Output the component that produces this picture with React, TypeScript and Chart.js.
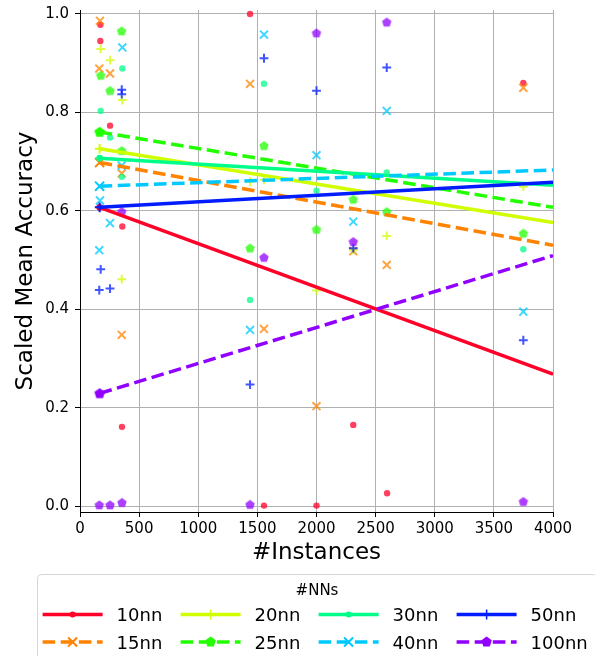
import React, { useEffect, useRef } from 'react';
import { Chart, registerables } from 'chart.js';

Chart.register(...registerables);

const FONT = "'DejaVu Sans', 'Liberation Sans', sans-serif";

// ---------------- data ----------------
const seriesNames = ['10nn', '15nn', '20nn', '25nn', '30nn', '40nn', '50nn', '100nn'];
const seriesColors = ['#ff0029', '#ff8300', '#cfff00', '#22ff00', '#00ff89', '#00c9ff', '#001cff', '#9100ff'];
const seriesDashed = [false, true, false, true, false, true, false, true];
const seriesMarkers = ['dot', 'x', 'plus', 'pentagon', 'dot', 'x', 'plus', 'pentagon'];

const x10nn = [172, 172, 254, 358, 355, 1438, 1556, 2000, 2311, 2597, 3749];
const y10nn = [0.978, 0.945, 0.773, 0.568, 0.161, 1.0, 0.001, 0.001, 0.165, 0.026, 0.86];
const x15nn = [169, 163, 254, 353, 353, 1438, 1556, 2000, 2311, 2594, 3749];
const y15nn = [0.986, 0.889, 0.879, 0.676, 0.348, 0.858, 0.36, 0.203, 0.518, 0.49, 0.85];
const x20nn = [175, 254, 358, 353, 1438, 1556, 2000, 2311, 2594, 3749];
const y20nn = [0.929, 0.906, 0.825, 0.461, 0.659, 0.663, 0.438, 0.52, 0.549, 0.649];
const x25nn = [175, 254, 352, 353, 1438, 1556, 2000, 2311, 2594, 3749];
const y25nn = [0.875, 0.844, 0.965, 0.722, 0.524, 0.732, 0.562, 0.623, 0.598, 0.554];
const x30nn = [175, 254, 358, 353, 1438, 1556, 2000, 2594, 3749];
const y30nn = [0.803, 0.749, 0.889, 0.669, 0.419, 0.858, 0.641, 0.678, 0.522];
const x40nn = [358, 353, 169, 254, 163, 1438, 1556, 2000, 2311, 2594, 3749];
const y40nn = [0.932, 0.692, 0.621, 0.575, 0.52, 0.358, 0.958, 0.713, 0.578, 0.803, 0.395];
const x50nn = [353, 353, 175, 163, 254, 1438, 1556, 2000, 2311, 2594, 3749];
const y50nn = [0.846, 0.837, 0.481, 0.439, 0.442, 0.247, 0.91, 0.844, 0.524, 0.891, 0.337];
const x100nn = [353, 163, 254, 355, 1438, 1556, 2000, 2311, 2594, 3749];
const y100nn = [0.598, 0.002, 0.002, 0.007, 0.003, 0.505, 0.961, 0.537, 0.983, 0.009];

const seriesX = [x10nn, x15nn, x20nn, x25nn, x30nn, x40nn, x50nn, x100nn];
const seriesY = [y10nn, y15nn, y20nn, y25nn, y30nn, y40nn, y50nn, y100nn];

// fitted trend lines (start / end)
const fitStartX = 166;
const fitEndX = 4000;
const fitStartY = [0.607, 0.698, 0.726, 0.76, 0.707, 0.65, 0.607, 0.229];
const fitEndY = [0.268, 0.53, 0.576, 0.607, 0.652, 0.683, 0.658, 0.509];

const xTicks = [0, 500, 1000, 1500, 2000, 2500, 3000, 3500, 4000];
const yTicks = [0, 0.2, 0.4, 0.6, 0.8, 1.0];

const xTitle = '#Instances';
const yTitle = 'Scaled Mean Accuracy';
const legendTitle = '#NNs';

// ---------------- helpers ----------------
function hexToRgba(hex: string, a: number) {
  const n = parseInt(hex.slice(1), 16);
  return `rgba(${(n >> 16) & 255},${(n >> 8) & 255},${n & 255},${a})`;
}

function pentagonPath(ctx: CanvasRenderingContext2D, cx: number, cy: number, R: number) {
  ctx.beginPath();
  for (let i = 0; i < 5; i++) {
    const a = -Math.PI / 2 + (i * 2 * Math.PI) / 5;
    const px = cx + R * Math.cos(a);
    const py = cy + R * Math.sin(a);
    if (i === 0) ctx.moveTo(px, py);
    else ctx.lineTo(px, py);
  }
  ctx.closePath();
}

function pentagonCanvas(color: string, R: number) {
  const size = Math.ceil(R * 2 + 2);
  const c = document.createElement('canvas');
  c.width = size;
  c.height = size;
  const ctx = c.getContext('2d')!;
  pentagonPath(ctx, size / 2, size / 2 + R * 0.05, R);
  ctx.fillStyle = color;
  ctx.fill();
  return c;
}

function drawLegendMarker(ctx: CanvasRenderingContext2D, kind: string, x: number, y: number, color: string) {
  ctx.save();
  ctx.setLineDash([]);
  ctx.fillStyle = color;
  ctx.strokeStyle = color;
  if (kind === 'dot') {
    ctx.beginPath();
    ctx.arc(x, y, 3, 0, Math.PI * 2);
    ctx.fill();
  } else if (kind === 'x') {
    ctx.lineWidth = 2;
    ctx.beginPath();
    ctx.moveTo(x - 4.5, y - 4.5);
    ctx.lineTo(x + 4.5, y + 4.5);
    ctx.moveTo(x - 4.5, y + 4.5);
    ctx.lineTo(x + 4.5, y - 4.5);
    ctx.stroke();
  } else if (kind === 'plus') {
    ctx.lineWidth = 1.5;
    ctx.beginPath();
    ctx.moveTo(x - 5, y);
    ctx.lineTo(x + 5, y);
    ctx.moveTo(x, y - 5);
    ctx.lineTo(x, y + 5);
    ctx.stroke();
  } else {
    pentagonPath(ctx, x, y, 5.5);
    ctx.fill();
  }
  ctx.restore();
}

const legendPlugin = {
  id: 'nnLegend',
  afterDraw(chart: any) {
    const ctx: CanvasRenderingContext2D = chart.ctx;
    ctx.save();
    // frame
    const bx = 37.5, by = 574.5, bw = 560, bh = 110, r = 4;
    ctx.beginPath();
    ctx.moveTo(bx + r, by);
    ctx.lineTo(bx + bw - r, by);
    ctx.arcTo(bx + bw, by, bx + bw, by + r, r);
    ctx.lineTo(bx + bw, by + bh);
    ctx.lineTo(bx, by + bh);
    ctx.lineTo(bx, by + r);
    ctx.arcTo(bx, by, bx + r, by, r);
    ctx.closePath();
    ctx.fillStyle = '#ffffff';
    ctx.fill();
    ctx.strokeStyle = '#d6d6d6';
    ctx.lineWidth = 1;
    ctx.stroke();

    ctx.fillStyle = '#000';
    ctx.font = `15px ${FONT}`;
    ctx.textAlign = 'center';
    ctx.textBaseline = 'alphabetic';
    ctx.fillText(legendTitle, 317, 595);

    const colX = [42.6, 180.6, 318.6, 456.6];
    const rowY = [614.5, 642];
    const rowBase = [621, 648.5];
    ctx.font = `18px ${FONT}`;
    ctx.textAlign = 'left';
    for (let i = 0; i < seriesNames.length; i++) {
      const col = Math.floor(i / 2);
      const row = i % 2;
      const x0 = colX[col];
      const y = rowY[row];
      ctx.save();
      ctx.strokeStyle = seriesColors[i];
      ctx.lineWidth = 3.5;
      ctx.lineCap = 'butt';
      ctx.setLineDash(seriesDashed[i] ? [12.6, 5.5] : []);
      ctx.beginPath();
      ctx.moveTo(x0, y);
      ctx.lineTo(x0 + 60, y);
      ctx.stroke();
      ctx.restore();
      drawLegendMarker(ctx, seriesMarkers[i], x0 + 30, y, seriesColors[i]);
      ctx.fillStyle = '#000';
      ctx.fillText(seriesNames[i], x0 + 74, rowBase[row]);
    }
    ctx.restore();
  },
};

function styleFor(kind: string, color: string, forLine: boolean) {
  const R = forLine ? 5.6 : 5.0;
  if (kind === 'dot') return { pointStyle: 'circle' as any, radius: forLine ? 3.4 : 3.2, border: 0 };
  if (kind === 'x') return { pointStyle: 'crossRot' as any, radius: forLine ? 6.4 : 5.6, border: 2 };
  if (kind === 'plus') return { pointStyle: 'cross' as any, radius: forLine ? 4.8 : 4.4, border: 2 };
  return { pointStyle: pentagonCanvas(color, R) as any, radius: R, border: 0 };
}

export default function App() {
  const ref = useRef<HTMLCanvasElement>(null);

  useEffect(() => {
    const datasets: any[] = [];
    seriesNames.forEach((name, i) => {
      const color = seriesColors[i];
      const faded = hexToRgba(color, 0.75);
      const st = styleFor(seriesMarkers[i], faded, false);
      datasets.push({
        type: 'scatter',
        label: name,
        data: seriesX[i].map((x, j) => ({ x, y: seriesY[i][j] })),
        pointStyle: st.pointStyle,
        pointRadius: st.radius,
        pointHoverRadius: st.radius,
        backgroundColor: faded,
        borderColor: faded,
        pointBorderWidth: st.border,
        borderWidth: st.border,
        order: 100 - i,
      });
    });
    seriesNames.forEach((name, i) => {
      const color = seriesColors[i];
      const st = styleFor(seriesMarkers[i], color, true);
      datasets.push({
        type: 'line',
        label: name + ' fit',
        data: [
          { x: fitStartX, y: fitStartY[i] },
          { x: fitEndX, y: fitEndY[i] },
        ],
        showLine: true,
        fill: false,
        tension: 0,
        borderColor: color,
        borderWidth: 3.5,
        borderDash: seriesDashed[i] ? [12.6, 5.5] : [],
        borderCapStyle: 'butt',
        pointStyle: st.pointStyle,
        pointRadius: [st.radius, 0],
        pointHoverRadius: [st.radius, 0],
        pointBackgroundColor: color,
        pointBorderColor: color,
        pointBorderWidth: st.border,
        order: 20 - i,
      });
    });

    const chart = new Chart(ref.current!, {
      type: 'scatter',
      data: { datasets },
      plugins: [legendPlugin],
      options: {
        responsive: false,
        animation: false,
        events: [],
        layout: { padding: { left: 0, right: 42, top: 10, bottom: 84 } },
        plugins: {
          legend: { display: false },
          tooltip: { enabled: false },
        },
        scales: {
          x: {
            type: 'linear',
            position: 'bottom',
            min: 0,
            max: 4000,
            afterBuildTicks: (s: any) => {
              s.ticks = xTicks.map((v) => ({ value: v }));
            },
            afterFit: (s: any) => {
              s.height = 60;
              s.paddingLeft = 0;
              s.paddingRight = 0;
            },
            ticks: {
              callback: (v: any) => String(v),
              font: { family: FONT, size: 15 },
              color: '#000',
              padding: 3,
              autoSkip: false,
              maxRotation: 0,
            },
            grid: { color: '#b0b0b0', lineWidth: 1, tickColor: '#000', tickLength: 5, tickWidth: 1 },
            border: { color: '#000', width: 1 },
            title: {
              display: true,
              text: xTitle,
              font: { family: FONT, size: 23 },
              color: '#000',
              padding: { top: 0, bottom: 5 },
            },
          },
          y: {
            type: 'linear',
            min: -0.012,
            max: 1.008,
            afterBuildTicks: (s: any) => {
              s.ticks = yTicks.map((v) => ({ value: v }));
            },
            afterFit: (s: any) => {
              s.width = 80;
              s.paddingTop = 0;
              s.paddingBottom = 0;
            },
            ticks: {
              callback: (v: any) => Number(v).toFixed(1),
              font: { family: FONT, size: 15 },
              color: '#000',
              padding: 6,
            },
            grid: { color: '#b0b0b0', lineWidth: 1, tickColor: '#000', tickLength: 5, tickWidth: 1 },
            border: { color: '#000', width: 1 },
            title: {
              display: true,
              text: yTitle,
              font: { family: FONT, size: 23 },
              color: '#000',
              padding: { top: 12, bottom: 0 },
            },
          },
        },
      } as any,
    });
    return () => chart.destroy();
  }, []);

  return (
    <div style={{ position: 'absolute', left: 0, top: 0, width: 595, height: 656, background: '#fff' }}>
      <canvas ref={ref} width={595} height={656} style={{ display: 'block', width: 595, height: 656 }} />
    </div>
  );
}
